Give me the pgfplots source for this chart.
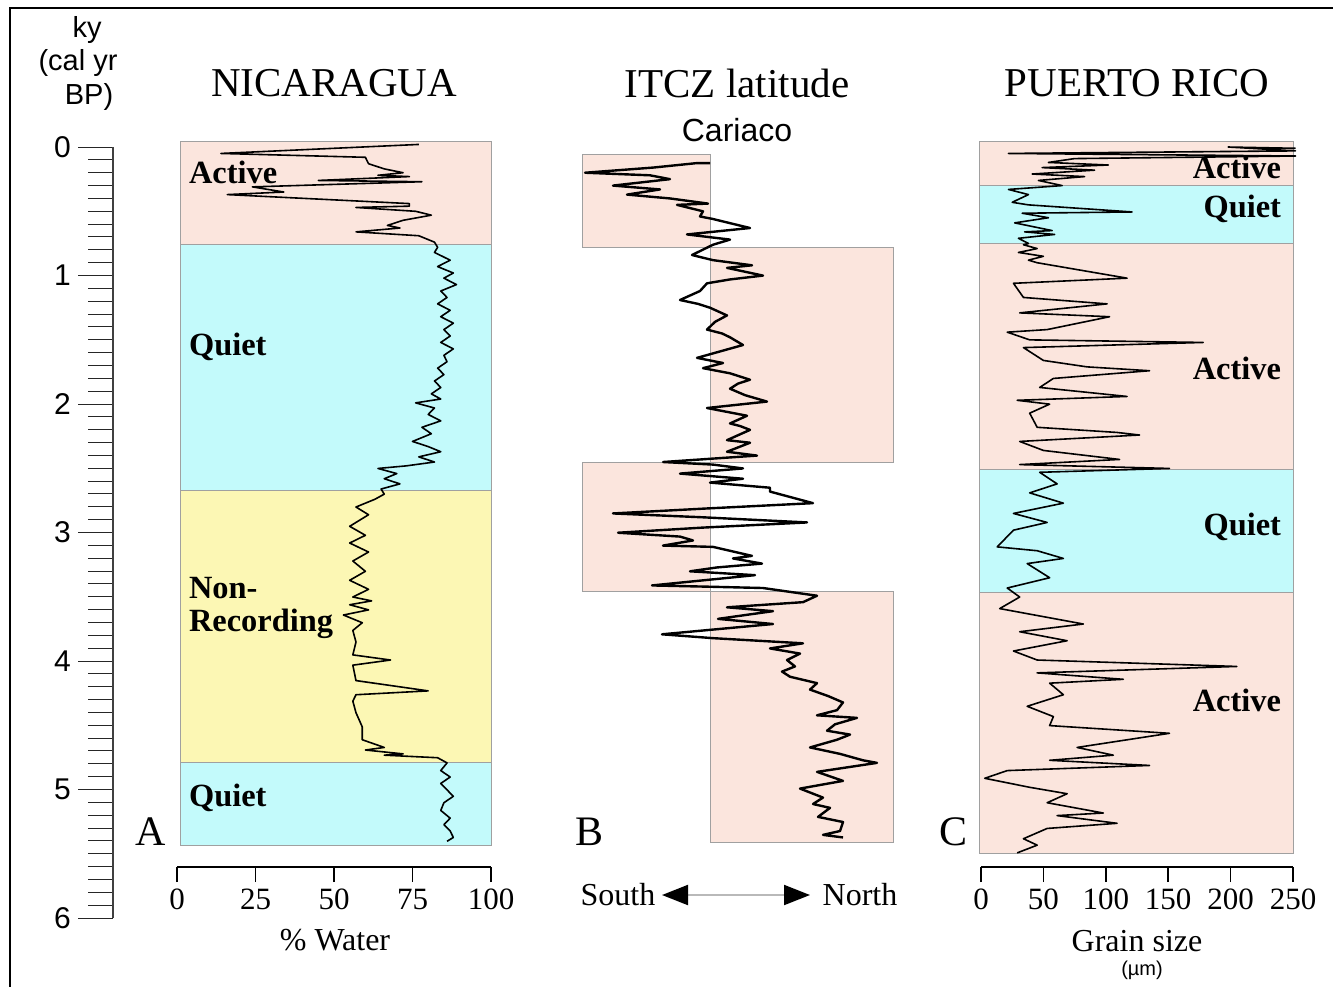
\documentclass[border=0pt]{standalone}
\usepackage{pgfplots}
\pgfplotsset{compat=1.18}
\usepackage{fontspec}
\setmainfont{Liberation Serif}
\newfontfamily\arial{Liberation Sans}
\usetikzlibrary{arrows.meta}
\definecolor{bandpink}{RGB}{251,229,221}
\definecolor{bandcyan}{RGB}{195,250,251}
\definecolor{bandyellow}{RGB}{252,247,180}
\definecolor{bandedge}{RGB}{160,160,160}
\newcommand{\fs}[1]{\fontsize{#1}{#1}\selectfont}
\pgfplotsset{
  panel/.style={anchor=north west, scale only axis, y dir=reverse, clip=false,
    /pgf/number format/assume math mode=true},
  band/.style={draw=bandedge, line width=0.5pt, fill=#1},
  curve/.style={black, line width=0.8pt, line join=round, mark=none},
}
\begin{document}
\begin{tikzpicture}[x=0.5pt,y=-0.5pt]
\useasboundingbox (0,0) rectangle (1333,986);
\fill[white] (0,0) rectangle (1333,986);
\draw[line width=1.3pt] (10,995) -- (10,8) -- (1340,8);

% ---------- age scale ----------
\begin{axis}[panel, at={(39pt,-73.5pt)}, width=17.5pt, height=385.5pt,
  xmin=0, xmax=1, ymin=0, ymax=6, hide x axis, axis line style={draw=none},
  ytick={0,1,2,3,4,5,6}, minor y tick num=9, ytick pos=right, yticklabel pos=left,
  tick align=inside, major tick length=17.5pt, minor tick length=12.5pt,
  tick style={gray!30!black, line width=0.5pt},
  yticklabel style={font=\arial\fs{15pt}}]
\addplot[gray!50!black, line width=1.4pt] coordinates {(1,0) (1,6)};
\end{axis}

% ---------- A: Nicaragua ----------
\begin{axis}[panel, at={(88.5pt,-73.5pt)}, width=157pt, height=360pt,
  xmin=0, xmax=100, ymin=0, ymax=5.6,
  axis x line=bottom, axis y line=none, axis line style={-, line width=0.8pt},
  xtick={0,25,50,75,100}, tick align=outside, major tick length=7.5pt,
  tick style={black, line width=0.8pt},
  xticklabel style={font=\fs{15.5pt}}]
\addplot[band=bandpink] coordinates {(1,-0.04) (100.3,-0.04) (100.3,0.755) (1,0.755)} -- cycle;
\addplot[band=bandcyan] coordinates {(1,0.755) (100.3,0.755) (100.3,2.67) (1,2.67)} -- cycle;
\addplot[band=bandyellow] coordinates {(1,2.67) (100.3,2.67) (100.3,4.785) (1,4.785)} -- cycle;
\addplot[band=bandcyan] coordinates {(1,4.785) (100.3,4.785) (100.3,5.43) (1,5.43)} -- cycle;
\addplot[curve] coordinates {
(77,-0.02) (14,0.05) (60,0.08) (61,0.13) (66,0.17) (72,0.20) (64,0.22) (74,0.23)
(45,0.26) (78,0.27) (24,0.31) (34,0.35) (16,0.37) (74,0.44) (74,0.46) (57,0.47)
(76,0.50) (81,0.53) (72,0.57) (67,0.61) (71,0.63) (57,0.66) (77,0.69) (82,0.74)
(83,0.78) (82,0.82) (87,0.88) (83,0.93) (88,0.98) (85,1.02) (89,1.07) (84,1.12)
(86,1.17) (83,1.22) (87,1.27) (84,1.32) (88,1.37) (85,1.42) (87,1.47) (84,1.52)
(88,1.57) (85,1.62) (86,1.67) (83,1.72) (85,1.77) (82,1.82) (84,1.87) (81,1.92)
(84,1.96) (76,1.99) (82,2.03) (80,2.08) (84,2.13) (78,2.18) (81,2.23) (75,2.29)
(80,2.33) (84,2.37) (77,2.41) (82,2.45) (73,2.48) (64,2.50) (70,2.54) (66,2.58)
(71,2.62) (65,2.66) (66,2.70) (63,2.74) (57,2.80) (61,2.86) (55,2.95) (60,3.02)
(55,3.08) (61,3.15) (56,3.22) (60,3.30) (55,3.37) (61,3.44) (56,3.50) (62,3.53)
(55,3.56) (61,3.60) (53,3.64) (59,3.70) (56,3.76) (57,3.85) (56,3.95) (68,3.99)
(56,4.03) (57,4.15) (80,4.23) (57,4.26) (56,4.31) (57,4.40) (59,4.51) (59,4.61)
(66,4.67) (60,4.69) (72,4.72) (66,4.73) (83,4.75) (86,4.79) (84,4.85) (87,4.90)
(84,4.95) (86,5.00) (88,5.05) (85,5.10) (84,5.16) (87,5.22) (85,5.27) (87,5.32)
(88,5.37) (86,5.40)};
\end{axis}

% ---------- B: ITCZ latitude (Cariaco) ----------
\begin{axis}[panel, at={(285pt,-73.5pt)}, width=170pt, height=360pt,
  xmin=-140, xmax=200, ymin=0, ymax=5.6, hide axis]
\addplot[band=bandpink] coordinates {(-128,0.062) (0,0.062) (0,0.778) (-128,0.778)} -- cycle;
\addplot[band=bandpink] coordinates {(0,0.778) (183,0.778) (183,2.451) (0,2.451)} -- cycle;
\addplot[band=bandpink] coordinates {(-128,2.451) (0,2.451) (0,3.455) (-128,3.455)} -- cycle;
\addplot[band=bandpink] coordinates {(0,3.455) (183,3.455) (183,5.409) (0,5.409)} -- cycle;
\addplot[curve, line width=1.2pt] coordinates {
(0,0.125) (-13,0.125) (-57,0.16) (-125,0.20) (-60,0.22) (-40,0.25) (-97,0.30) (-50,0.33)
(-83,0.37) (-40,0.40) (-2,0.44) (-33,0.45) (-7,0.50) (-10,0.54) (3,0.56) (40,0.63)
(-23,0.68) (20,0.72) (3,0.76) (-18,0.84) (3,0.88) (42,0.92) (17,0.94) (53,1.00)
(20,1.03) (-3,1.06) (-10,1.12) (-30,1.19) (-12,1.22) (0,1.25) (17,1.31) (5,1.36) (-3,1.42)
(12,1.45) (20,1.48) (33,1.54) (10,1.59) (-13,1.64) (13,1.68) (-7,1.72) (20,1.76) (40,1.81)
(28,1.84) (20,1.88) (35,1.93) (57,1.98) (-3,2.03) (37,2.09) (20,2.15) (30,2.17) (40,2.20) (17,2.28)
(40,2.30) (17,2.37) (47,2.40) (-47,2.45) (3,2.47) (33,2.50) (-30,2.54) (33,2.58)
(0,2.61) (60,2.65) (60,2.68) (103,2.77) (0,2.81) (-97,2.85) (-7,2.88) (97,2.92)
(-7,2.96) (-92,3.00) (-30,3.03) (-17,3.06) (-47,3.10) (3,3.11) (42,3.18) (23,3.20)
(52,3.24) (7,3.27) (-20,3.30) (45,3.33) (-58,3.41) (0,3.42) (53,3.43) (107,3.49)
(93,3.54) (17,3.58) (63,3.61) (8,3.67) (63,3.71) (-48,3.79) (3,3.82) (93,3.86)
(60,3.90) (90,3.94) (77,3.99) (85,4.04) (72,4.08) (80,4.12) (107,4.17) (100,4.22)
(118,4.27) (133,4.32) (127,4.38) (107,4.42) (147,4.44) (125,4.49) (117,4.54) (140,4.57)
(127,4.61) (100,4.67) (130,4.72) (153,4.77) (167,4.79) (107,4.86) (133,4.93) (90,4.99)
(113,5.06) (103,5.11) (120,5.14) (108,5.21) (133,5.25) (130,5.32) (113,5.35) (133,5.37)};
\end{axis}

% ---------- C: Puerto Rico ----------
\begin{axis}[panel, at={(490.5pt,-73.5pt)}, width=156pt, height=360pt,
  xmin=0, xmax=250, ymin=0, ymax=5.6,
  axis x line=bottom, axis y line=none, axis line style={-, line width=0.8pt},
  xtick={0,50,100,150,200,250}, tick align=outside, major tick length=7.5pt,
  tick style={black, line width=0.8pt},
  xticklabel style={font=\fs{15.5pt}}]
\addplot[band=bandpink] coordinates {(-1.6,-0.04) (250,-0.04) (250,0.30) (-1.6,0.30)} -- cycle;
\addplot[band=bandcyan] coordinates {(-1.6,0.30) (250,0.30) (250,0.747) (-1.6,0.747)} -- cycle;
\addplot[band=bandpink] coordinates {(-1.6,0.747) (250,0.747) (250,2.506) (-1.6,2.506)} -- cycle;
\addplot[band=bandcyan] coordinates {(-1.6,2.506) (250,2.506) (250,3.463) (-1.6,3.463)} -- cycle;
\addplot[band=bandpink] coordinates {(-1.6,3.463) (250,3.463) (250,5.494) (-1.6,5.494)} -- cycle;
\addplot[curve] coordinates {
(252,0.01) (198,0.00) (252,0.03) (22,0.05) (252,0.07) (75,0.09) (54,0.12) (102,0.14)
(49,0.16) (91,0.18) (41,0.21) (83,0.23) (46,0.26) (65,0.30) (22,0.33) (38,0.37)
(25,0.43) (38,0.45) (121,0.505) (33,0.515) (54,0.55) (27,0.59) (57,0.65) (35,0.66)
(59,0.68) (30,0.71) (38,0.75) (34,0.76) (45,0.79) (30,0.82) (50,0.85) (38,0.88)
(45,0.90) (117,1.02) (26,1.06) (34,1.17) (101,1.22) (31,1.29) (103,1.32) (53,1.42)
(21,1.44) (39,1.50) (178,1.52) (34,1.56) (50,1.66) (85,1.71) (135,1.74) (58,1.80)
(47,1.87) (117,1.94) (29,1.97) (55,2.00) (39,2.07) (45,2.18) (109,2.22) (127,2.24)
(31,2.29) (50,2.36) (111,2.43) (31,2.47) (151,2.50) (47,2.53) (61,2.62) (39,2.69)
(66,2.77) (26,2.85) (53,2.92) (26,2.98) (13,3.11) (45,3.14) (66,3.20) (37,3.24)
(55,3.35) (21,3.43) (31,3.50) (15,3.59) (82,3.71) (31,3.77) (69,3.84) (26,3.92)
(45,3.99) (205,4.04) (45,4.09) (114,4.14) (55,4.17) (66,4.26) (37,4.35) (58,4.43)
(55,4.50) (151,4.56) (77,4.67) (106,4.73) (55,4.77) (135,4.81) (21,4.85) (3,4.91)
(39,4.98) (69,5.03) (53,5.10) (98,5.18) (61,5.20) (109,5.26) (53,5.30) (34,5.38)
(45,5.43) (29,5.49)};
\end{axis}

% ---------- texts ----------
\node[font=\arial\fs{14.5pt}] at (87,30) {ky};
\node[font=\arial\fs{14.5pt}] at (78,63) {(cal yr};
\node[font=\arial\fs{14.5pt}] at (89,97) {BP)};
\node[font=\fs{20.5pt}] at (334,83) {NICARAGUA};
\node[font=\fs{20.5pt}] at (737,83) {ITCZ latitude};
\node[font=\arial\fs{16pt}] at (737,130) {Cariaco};
\node[font=\fs{20.5pt}] at (1137,83) {PUERTO RICO};

\begin{scope}[every node/.style={font=\bfseries\fs{16.2pt}}]
\node[anchor=west] at (182,172) {Active};
\node[anchor=west] at (182,347) {Quiet};
\node[anchor=west] at (182,588) {Non-};
\node[anchor=west] at (182,624) {Recording};
\node[anchor=west] at (182,798) {Quiet};
\node[anchor=east] at (1288,167) {Active};
\node[anchor=east] at (1288,209) {Quiet};
\node[anchor=east] at (1288,368) {Active};
\node[anchor=east] at (1288,527) {Quiet};
\node[anchor=east] at (1288,700) {Active};
\end{scope}

\node[font=\fs{21pt}] at (151,832) {A};
\node[font=\fs{21pt}] at (590,832) {B};
\node[font=\fs{21pt}] at (953,832) {C};

\node[font=\fs{16pt}] at (335,940) {\% Water};
\node[font=\fs{16pt}] at (1137,941) {Grain size};
\node[font=\arial\fs{10pt}] at (1142,970) {(µm)};

\node[font=\fs{16pt}] at (618,895) {South};
\node[font=\fs{16pt}] at (860,895) {North};
\draw[gray!55, line width=1pt,
  {Triangle[length=13pt,width=10pt,black]}-{Triangle[length=13pt,width=10pt,black]}]
  (662,895) -- (810,895);
\end{tikzpicture}
\end{document}
